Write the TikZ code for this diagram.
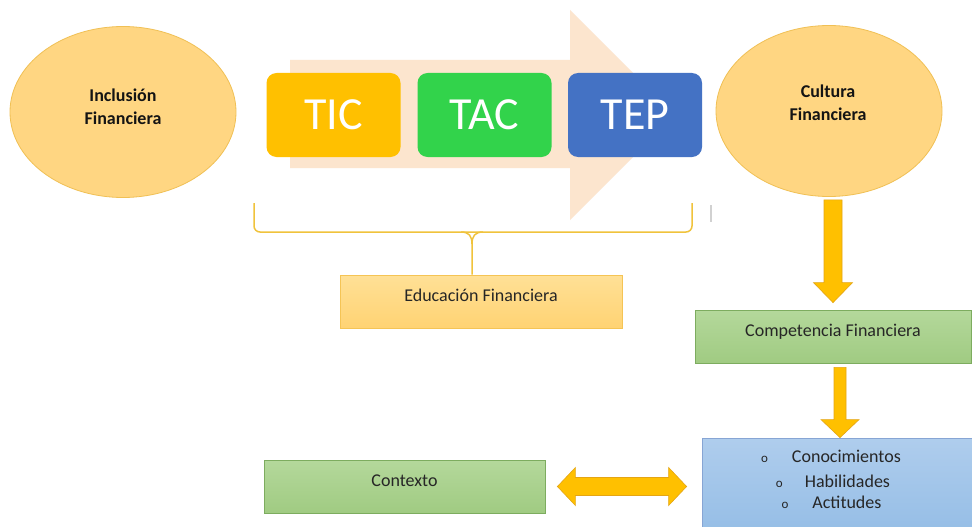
\documentclass[tikz,border=0pt]{standalone}
\usepackage{fontspec}
\setmainfont{Carlito}
\usetikzlibrary{shapes.geometric,calc}
\definecolor{ellfill}{RGB}{255,214,130}
\definecolor{elldraw}{RGB}{240,192,85}
\definecolor{bigarrc}{RGB}{252,229,206}
\definecolor{ticc}{RGB}{255,192,0}
\definecolor{tacc}{RGB}{50,211,75}
\definecolor{tepc}{RGB}{68,114,196}
\definecolor{bracec}{RGB}{240,195,60}
\definecolor{edutop}{RGB}{255,224,150}
\definecolor{edubot}{RGB}{255,211,115}
\definecolor{edudraw}{RGB}{245,196,85}
\definecolor{grtop}{RGB}{180,216,155}
\definecolor{grbot}{RGB}{160,203,130}
\definecolor{grdraw}{RGB}{125,172,95}
\definecolor{bltop}{RGB}{175,205,237}
\definecolor{blbot}{RGB}{150,190,230}
\definecolor{bldraw}{RGB}{135,165,212}
\definecolor{arrfill}{RGB}{255,192,0}
\definecolor{arrdraw}{RGB}{228,165,20}
\definecolor{txtc}{RGB}{38,38,38}
\newcommand{\vblockarrow}[5]{%
  \filldraw[blockarr] let \p1=(#1), \p2=(#2) in
   (\x1-#3,\y1) -- (\x1+#3,\y1) -- (\x1+#3,\y2+#5) -- (\x1+#4,\y2+#5) -- (\x1,\y2)
   -- (\x1-#4,\y2+#5) -- (\x1-#3,\y2+#5) -- cycle;}
\newcommand{\hdblblockarrow}[5]{%
  \filldraw[blockarr] let \p1=(#1), \p2=(#2) in
   (\x1,\y1) -- (\x1+#5,\y1+#4) -- (\x1+#5,\y1+#3) -- (\x2-#5,\y1+#3) -- (\x2-#5,\y1+#4)
   -- (\x2,\y1) -- (\x2-#5,\y1-#4) -- (\x2-#5,\y1-#3) -- (\x1+#5,\y1-#3) -- (\x1+#5,\y1-#4) -- cycle;}
\begin{document}
\begin{tikzpicture}[x=1pt,y=-1pt,
  ell/.style={ellipse, fill=ellfill, draw=elldraw, line width=0.8pt, minimum width=226pt, minimum height=171pt, inner sep=0pt},
  elltext/.style={font=\bfseries\fontsize{18}{23}\selectfont, align=center, text=black!92},
  techbox/.style={rounded corners=10pt, text=white, font=\fontsize{46}{50}\selectfont, inner sep=0pt, minimum width=134pt, minimum height=84pt},
  plainbox/.style={font=\fontsize{18}{22}\selectfont, text=txtc, inner sep=0pt, text height=12pt, text depth=12pt, line width=0.8pt},
  edubox/.style={plainbox, top color=edutop, bottom color=edubot, draw=edudraw, minimum width=282pt, minimum height=53pt},
  greenbox/.style={plainbox, top color=grtop, bottom color=grbot, draw=grdraw, minimum height=53pt},
  bluebox/.style={top color=bltop, bottom color=blbot, draw=bldraw, line width=0.8pt, minimum width=273pt, minimum height=92pt, inner sep=0pt},
  bullettext/.style={font=\fontsize{18}{22}\selectfont, text=txtc, inner sep=0pt, anchor=base},
  bracestyle/.style={draw=bracec, line width=1.5pt},
  blockarr/.style={fill=arrfill, draw=arrdraw, line width=0.6pt, line join=miter}
]
\useasboundingbox (0,0) rectangle (972,527);
\fill[white] (0,0) rectangle (972,527);

% big background arrow
\fill[bigarrc] (290,60) -- (570,60) -- (570,10) -- (675,115) -- (570,220) -- (570,168) -- (290,168) -- cycle;

% ellipses
\node[ell] (incl) at (123,112) {};
\node[elltext] (inclT) at (123,107) {Inclusión\\Financiera};
\node[ell] (cult) at (829,111) {};
\node[elltext] (cultT) at (828,103) {Cultura\\Financiera};

% TIC / TAC / TEP
\node[techbox, fill=ticc] (tic) at (333.5,115) {TIC};
\node[techbox, fill=tacc] (tac) at (484.5,115) {TAC};
\node[techbox, fill=tepc] (tep) at (635,115) {TEP};

% faint tick
\draw[black!18, line width=1.2pt] (711,205) -- (711,222);

% Educación Financiera
\node[edubox] (edu) at (481,301.5) {Educación Financiera};

% brace
\coordinate (bm) at (472,244);
\draw[bracestyle, rounded corners=6pt] (254,203) -- (254,232) -- (692,232) -- (692,203);
\draw[bracestyle] (461,232) .. controls (469,232) and (472,236) .. (bm) -- (bm |- edu.north);
\draw[bracestyle] (483,232) .. controls (475,232) and (472,236) .. (bm);

% Competencia
\node[greenbox, minimum width=276pt] (comp) at (833,336.5) {Competencia Financiera};

% blue box (cut by the picture edge)
\begin{scope}
\clip (0,0) rectangle (972,527);
\node[bluebox] (blue) at (838.5,484) {};
\end{scope}
\node[bullettext] (b1) at (831,462) {{\fontsize{13}{13}\selectfont o}\hspace{24pt}Conocimientos};
\node[bullettext] (b2) at (833,487) {{\fontsize{13}{13}\selectfont o}\hspace{22pt}Habilidades};
\node[bullettext] (b3) at (831.5,508) {{\fontsize{13}{13}\selectfont o}\hspace{24pt}Actitudes};

% Contexto
\node[greenbox, minimum width=281pt] (ctx) at (404.5,486.5) {Contexto};

% block arrows
\coordinate (a1s) at ($(cult.south)+(4,3)$);
\coordinate (a1e) at ($(comp.north)+(0,-7)$);
\vblockarrow{a1s}{a1e}{9pt}{19.5pt}{20pt}
\coordinate (a2s) at ($(comp.south)+(7,4)$);
\coordinate (a2e) at ($(blue.north)+(1.5,0)$);
\vblockarrow{a2s}{a2e}{6pt}{19pt}{18pt}
\coordinate (dL) at ($(ctx.east)+(12,0)$);
\coordinate (dR) at ($(blue.west)+(-15,2.5)$);
\hdblblockarrow{dL}{dR}{9pt}{19pt}{18pt}
\end{tikzpicture}
\end{document}
